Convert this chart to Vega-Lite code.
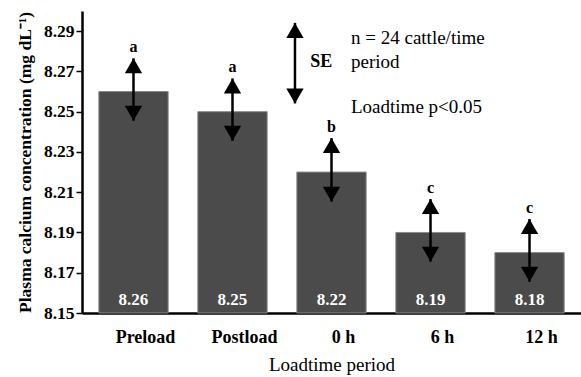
{
  "$schema": "https://vega.github.io/schema/vega-lite/v6.json",
  "width": 499,
  "height": 302,
  "autosize": {"type": "none"},
  "padding": {"left": 82, "top": 11, "right": 0, "bottom": 64},
  "background": "white",
  "config": {
    "view": {"stroke": null}
  },
  "datasets": {
    "bars": [
      {"period": "Preload", "mean": 8.26, "hi": 8.2765, "lo": 8.2455, "group": "a"},
      {"period": "Postload", "mean": 8.25, "hi": 8.2665, "lo": 8.2355, "group": "a"},
      {"period": "0 h", "mean": 8.22, "hi": 8.2369, "lo": 8.2053, "group": "b"},
      {"period": "6 h", "mean": 8.19, "hi": 8.2066, "lo": 8.1755, "group": "c"},
      {"period": "12 h", "mean": 8.18, "hi": 8.1967, "lo": 8.1655, "group": "c"}
    ],
    "se": [
      {"pos": 1.646, "hi": 8.2941, "lo": 8.2541}
    ],
    "selabel": [
      {"pos": 1.80, "v": 8.2746, "label": "SE"}
    ],
    "notes": [
      {"pos": 2.212, "v": 8.2865, "label": "n = 24 cattle/time"},
      {"pos": 2.212, "v": 8.2746, "label": "period"},
      {"pos": 2.212, "v": 8.2523, "label": "Loadtime p<0.05"}
    ]
  },
  "layer": [
    {
      "data": {"name": "bars"},
      "encoding": {
        "x": {
          "field": "period",
          "type": "nominal",
          "sort": ["Preload", "Postload", "0 h", "6 h", "12 h"],
          "scale": {"paddingInner": 0.3, "paddingOuter": 0.17},
          "axis": {
            "title": "Loadtime period",
            "titleFont": "Liberation Serif",
            "titleFontSize": 19,
            "titleFontWeight": "normal",
            "titleColor": "black",
            "titlePadding": 9,
            "labelAngle": 0,
            "labelFont": "Liberation Serif",
            "labelFontSize": 18,
            "labelFontWeight": "bold",
            "labelColor": "black",
            "labelOffset": 12,
            "labelPadding": 15,
            "ticks": false,
            "domainColor": "black",
            "domainWidth": 2.5
          }
        }
      },
      "layer": [
        {
          "mark": {"type": "bar", "color": "#4b4b4b", "stroke": "#8a8a8a", "strokeWidth": 1},
          "encoding": {
            "y": {
              "field": "mean",
              "type": "quantitative",
              "scale": {"domain": [8.15, 8.30], "zero": false, "nice": false},
              "axis": {
                "title": "Plasma calcium concentration (mg dL⁻¹)",
                "titleFont": "Liberation Serif",
                "titleFontSize": 17.5,
                "titleFontWeight": "bold",
                "titleColor": "black",
                "titlePadding": 9,
                "values": [8.15, 8.17, 8.19, 8.21, 8.23, 8.25, 8.27, 8.29],
                "format": ".2f",
                "labelFont": "Liberation Serif",
                "labelFontSize": 17.5,
                "labelFontWeight": "bold",
                "labelColor": "black",
                "labelPadding": 2,
                "tickSize": 6,
                "tickColor": "black",
                "tickWidth": 1.5,
                "domainColor": "black",
                "domainWidth": 2.5,
                "grid": false
              }
            },
            "y2": {"datum": 8.15}
          }
        },
        {
          "mark": {"type": "rule", "color": "black", "strokeWidth": 2.5},
          "encoding": {
            "y": {"field": "lo", "type": "quantitative"},
            "y2": {"field": "hi"}
          }
        },
        {
          "mark": {"type": "point", "shape": "triangle-up", "filled": true, "color": "black", "opacity": 1, "size": 300, "yOffset": 7.5},
          "encoding": {"y": {"field": "hi", "type": "quantitative"}}
        },
        {
          "mark": {"type": "point", "shape": "triangle-down", "filled": true, "color": "black", "opacity": 1, "size": 300, "yOffset": -7.5},
          "encoding": {"y": {"field": "lo", "type": "quantitative"}}
        },
        {
          "mark": {"type": "text", "font": "Liberation Serif", "fontSize": 16, "fontWeight": "bold", "color": "black", "baseline": "middle", "yOffset": -11},
          "encoding": {
            "y": {"field": "hi", "type": "quantitative"},
            "text": {"field": "group"}
          }
        },
        {
          "mark": {"type": "text", "font": "Liberation Serif", "fontSize": 17, "fontWeight": "bold", "color": "white", "baseline": "middle", "yOffset": -13},
          "encoding": {
            "y": {"datum": 8.15, "type": "quantitative"},
            "text": {"field": "mean", "format": ".2f"}
          }
        }
      ]
    },
    {
      "encoding": {
        "x": {
          "field": "pos",
          "type": "quantitative",
          "scale": {"domain": [-0.505, 4.535], "nice": false, "zero": false},
          "axis": null
        }
      },
      "layer": [
        {
          "data": {"name": "se"},
          "mark": {"type": "rule", "color": "black", "strokeWidth": 2.5},
          "encoding": {
            "y": {"field": "lo", "type": "quantitative"},
            "y2": {"field": "hi"}
          }
        },
        {
          "data": {"name": "se"},
          "mark": {"type": "point", "shape": "triangle-up", "filled": true, "color": "black", "opacity": 1, "size": 300, "yOffset": 7.5},
          "encoding": {"y": {"field": "hi", "type": "quantitative"}}
        },
        {
          "data": {"name": "se"},
          "mark": {"type": "point", "shape": "triangle-down", "filled": true, "color": "black", "opacity": 1, "size": 300, "yOffset": -7.5},
          "encoding": {"y": {"field": "lo", "type": "quantitative"}}
        },
        {
          "data": {"name": "selabel"},
          "mark": {"type": "text", "font": "Liberation Serif", "fontSize": 18, "fontWeight": "bold", "color": "black", "align": "left", "baseline": "middle"},
          "encoding": {
            "y": {"field": "v", "type": "quantitative"},
            "text": {"field": "label"}
          }
        },
        {
          "data": {"name": "notes"},
          "mark": {"type": "text", "font": "Liberation Serif", "fontSize": 19, "color": "black", "align": "left", "baseline": "middle"},
          "encoding": {
            "y": {"field": "v", "type": "quantitative"},
            "text": {"field": "label"}
          }
        }
      ]
    }
  ],
  "resolve": {"scale": {"x": "independent"}}
}
